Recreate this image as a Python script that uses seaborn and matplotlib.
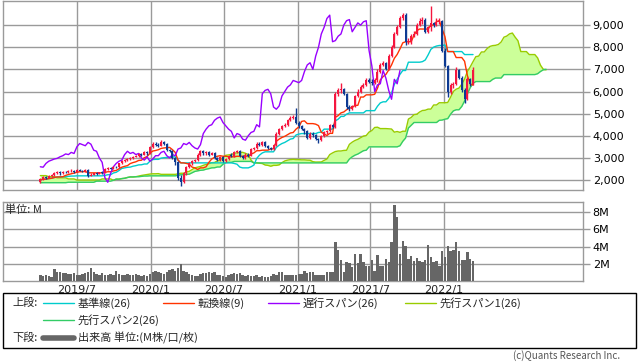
import numpy as np
import pandas as pd
import matplotlib
matplotlib.use('Agg')
import matplotlib.pyplot as plt
from matplotlib.lines import Line2D
from matplotlib.patches import Rectangle
import seaborn as sns

# weekly candles, first week 2019-04-01
opens = [
    1900, 2050, 2150, 2100, 2200, 2230, 2300, 2350, 2300, 2380,
    2350, 2400, 2420, 2380, 2450, 2430, 2400, 2450, 2200, 2250,
    2300, 2280, 2350, 2330, 2500, 2560, 2520, 2600, 2580, 2750,
    2850, 2900, 2950, 2980, 3050, 3100, 3180, 3150, 3250, 3200,
    3500, 3650, 3600, 3550, 3700, 3620, 3350, 3300, 3000, 2800,
    2100, 1900, 2300, 2600, 2750, 2850, 2900, 3150, 3300, 3200,
    3250, 3150, 3200, 3000, 2900, 3050, 2850, 2950, 3150, 3100,
    3250, 3300, 3100, 3000, 3150, 3100, 3400, 3450, 3650, 3600,
    3700, 3550, 3450, 3400, 3600, 4100, 4300, 4450, 4500, 4700,
    4800, 4850, 4600, 4450, 4300, 4200, 3900, 4100, 4050, 3850,
    3800, 4000, 4150, 4200, 4500, 4400, 5900, 6050, 6100, 5900,
    5300, 5200, 5350, 5800, 6000, 6200, 6300, 6500, 6450, 6400,
    6500, 6900, 7200, 7300, 7000, 7600, 8000, 8600, 8900, 9300,
    9450, 8250, 8300, 8500, 8600, 9000, 9200, 9250, 8700, 8900,
    9100, 9000, 9150, 9200, 7850, 7150, 6000, 6300, 6350, 6950,
    6600, 6050, 5650, 6550, 6350]
highs = [
    2100, 2200, 2200, 2250, 2280, 2350, 2400, 2400, 2420, 2420,
    2450, 2480, 2460, 2500, 2490, 2470, 2500, 2480, 2300, 2340,
    2350, 2380, 2390, 2540, 2600, 2600, 2640, 2650, 2780, 2900,
    2950, 3000, 3020, 3100, 3150, 3220, 3230, 3300, 3300, 3550,
    3700, 3720, 3680, 3800, 3750, 3680, 3420, 3350, 3050, 2850,
    2250, 2350, 2650, 2800, 2900, 2950, 3200, 3350, 3350, 3300,
    3300, 3250, 3250, 3050, 3100, 3100, 3000, 3150, 3200, 3300,
    3350, 3340, 3150, 3200, 3200, 3450, 3500, 3700, 3700, 3750,
    3750, 3600, 3500, 3650, 4150, 4350, 4500, 4600, 4750, 4900,
    4950, 5250, 4650, 4500, 4350, 4250, 4150, 4150, 4100, 3900,
    4050, 4200, 4250, 4550, 4550, 6000, 6150, 6400, 6150, 5950,
    5400, 5400, 5850, 6100, 6300, 6400, 6600, 6600, 6550, 6600,
    7000, 7300, 7400, 7350, 7700, 8100, 8700, 9000, 9400, 9550,
    9540, 8400, 8600, 8750, 9100, 9300, 9350, 9300, 8950, 9860,
    9150, 9300, 9320, 9250, 7950, 7200, 6400, 6450, 7100, 7000,
    6700, 6150, 6650, 6600, 7100]
lows = [
    1880, 2000, 2050, 2080, 2150, 2200, 2280, 2250, 2280, 2300,
    2320, 2370, 2340, 2360, 2400, 2360, 2380, 2150, 2180, 2220,
    2240, 2260, 2290, 2300, 2470, 2480, 2500, 2550, 2560, 2720,
    2820, 2860, 2920, 2950, 3020, 3060, 3100, 3120, 3150, 3180,
    3450, 3550, 3500, 3520, 3580, 3300, 3250, 2950, 2700, 2000,
    1750, 1850, 2250, 2550, 2700, 2800, 2850, 3100, 3150, 3150,
    3100, 3120, 2950, 2850, 2850, 2800, 2820, 2900, 3050, 3050,
    3200, 3050, 2950, 2950, 3050, 3080, 3350, 3400, 3550, 3550,
    3500, 3400, 3350, 3350, 3550, 4050, 4250, 4400, 4450, 4650,
    4750, 4550, 4350, 4250, 4100, 3850, 3850, 3950, 3800, 3670,
    3750, 3950, 4100, 4150, 4350, 4350, 5800, 5950, 5850, 5200,
    5100, 5150, 5300, 5750, 5950, 6150, 6250, 6400, 6300, 6350,
    6450, 6850, 7150, 6950, 6950, 7550, 7950, 8550, 8850, 9250,
    8100, 8150, 8150, 8450, 8550, 8950, 9050, 8650, 8650, 8750,
    8900, 8950, 9050, 7800, 7100, 5750, 5900, 6150, 6300, 6550,
    5980, 5480, 5600, 6250, 6300]
closes = [
    2050, 2150, 2100, 2200, 2230, 2300, 2350, 2300, 2380, 2350,
    2400, 2420, 2380, 2450, 2430, 2400, 2450, 2200, 2250, 2300,
    2280, 2350, 2330, 2500, 2560, 2520, 2600, 2580, 2750, 2850,
    2900, 2950, 2980, 3050, 3100, 3180, 3150, 3250, 3200, 3500,
    3650, 3600, 3550, 3700, 3620, 3350, 3300, 3000, 2800, 2100,
    1900, 2300, 2600, 2750, 2850, 2900, 3150, 3300, 3200, 3250,
    3150, 3200, 3000, 2900, 3050, 2850, 2950, 3100, 3100, 3250,
    3300, 3100, 3000, 3150, 3100, 3400, 3450, 3650, 3600, 3700,
    3550, 3450, 3400, 3600, 4100, 4300, 4450, 4500, 4700, 4800,
    4850, 4600, 4450, 4300, 4200, 3900, 4100, 4050, 3850, 3800,
    4000, 4150, 4200, 4500, 4400, 5900, 6050, 6100, 5900, 5300,
    5200, 5350, 5800, 6000, 6200, 6300, 6500, 6450, 6400, 6500,
    6900, 7200, 7300, 7000, 7600, 8000, 8600, 8900, 9300, 9450,
    8250, 8300, 8500, 8600, 9000, 9200, 9250, 8700, 8900, 9100,
    9000, 9150, 9200, 7850, 7150, 6000, 6300, 6350, 6950, 6600,
    6050, 5650, 6550, 6350, 6950]
# weekly volume, millions
volume = [
    0.7, 0.6, 0.65, 0.55, 0.5, 1.4, 1.0, 1.1, 0.95, 0.9,
    0.85, 0.8, 0.9, 0.7, 0.75, 0.8, 0.9, 1.0, 1.5, 1.05,
    0.8, 0.75, 0.9, 0.7, 0.75, 0.85, 0.7, 1.15, 0.8, 0.75,
    0.7, 0.8, 0.75, 0.65, 0.8, 0.7, 0.6, 0.65, 0.55, 0.8,
    1.0, 1.15, 1.1, 0.9, 0.8, 1.1, 1.3, 1.35, 1.2, 1.5,
    2.0, 1.2, 1.0, 0.85, 0.7, 0.6, 0.55, 0.8, 0.95, 0.9,
    1.0, 0.95, 1.1, 0.7, 0.75, 0.6, 0.5, 0.7, 0.85, 0.9,
    0.85, 0.95, 0.7, 0.6, 0.75, 0.55, 0.6, 0.7, 0.5, 0.55,
    0.5, 0.45, 0.6, 0.8, 0.7, 1.0, 1.0, 0.75, 0.7, 0.7,
    0.7, 0.75, 0.85, 0.8, 1.2, 0.9, 1.05, 1.0, 0.7, 0.75,
    0.7, 0.75, 1.1, 1.05, 1.1, 4.6, 3.6, 2.4, 1.0, 2.2,
    2.1, 1.6, 3.2, 2.1, 3.2, 2.2, 1.8, 1.7, 2.4, 1.2,
    3.0, 1.8, 1.7, 2.6, 2.2, 4.5, 8.8, 7.4, 3.1, 4.7,
    4.1, 2.6, 2.9, 2.3, 2.7, 2.3, 2.2, 2.4, 4.25, 2.75,
    2.2, 2.3, 1.7, 3.45, 2.75, 4.1, 3.5, 3.65, 4.5, 3.45,
    2.5, 2.5, 3.35, 2.6, 2.3]
# cloud before the first 26 weeks (carried over from earlier history)
span1_early = [2200, 2200, 2200, 2150, 2150, 2150, 2100, 2100, 2100, 2100,
               2050, 2050, 2050, 2000, 2000, 2000, 2000, 2000, 2000, 2000,
               2000, 2000, 2050, 2050, 2050, 2050]
span2_early = [1880, 1880, 1880, 1880, 1880, 1880, 1880, 1880, 1880, 1880,
               1900, 1900, 1900, 1900, 1900, 1900, 1900, 1900, 1900, 1900,
               1950, 1950, 1950, 1950, 1950, 1950]
xtick_dates = ['2019-07-01', '2020-01-01', '2020-07-01', '2021-01-01', '2021-07-01', '2022-01-01']
xtick_labels = ['2019/7', '2020/1', '2020/7', '2021/1', '2021/7', '2022/1']
price_ticks = [2000, 3000, 4000, 5000, 6000, 7000, 8000, 9000]
vol_ticks = [2, 4, 6, 8]

sns.set_style('white')
plt.rcParams['font.family'] = ['Noto Sans CJK JP', 'DejaVu Sans']

n = len(closes)
df = pd.DataFrame({'open': opens, 'high': highs, 'low': lows, 'close': closes,
                   'volume': volume})
df['date'] = pd.date_range('2019-04-01', periods=n, freq='W-MON')
all_dates = pd.date_range('2019-04-01', periods=n + 26, freq='W-MON')

hi, lo = df['high'], df['low']
df['tenkan'] = (hi.rolling(9, min_periods=1).max() + lo.rolling(9, min_periods=1).min()) / 2
df['kijun'] = (hi.rolling(26, min_periods=1).max() + lo.rolling(26, min_periods=1).min()) / 2
s1 = ((df['tenkan'] + df['kijun']) / 2).tolist()
s2 = ((hi.rolling(52, min_periods=1).max() + lo.rolling(52, min_periods=1).min()) / 2).tolist()
cloud = pd.DataFrame({'date': all_dates,
                      'span1': span1_early + s1,
                      'span2': span2_early + s2})
chikou = pd.DataFrame({'date': df['date'][:n - 26].values, 'close': closes[26:]})

W, H = 638, 362
fig = plt.figure(figsize=(W / 100, H / 100), dpi=100)
ax = fig.add_axes([3 / W, 1 - 190 / H, 580 / W, 189 / H])
ax2 = fig.add_axes([3 / W, 1 - 281 / H, 580 / W, 79 / H])

grid_c = '#9a9a9a'
for a in (ax, ax2):
    a.set_facecolor('white')
    for s in a.spines.values():
        s.set_color(grid_c)
        s.set_linewidth(1)
    a.grid(True, color=grid_c, linewidth=1)
    a.set_axisbelow(True)
    a.yaxis.tick_right()
    a.tick_params(axis='y', colors=grid_c, length=5, width=1, labelsize=8, labelcolor='black', pad=2)
    a.set_xticks(pd.to_datetime(xtick_dates))
    a.set_xlim(pd.Timestamp('2018-12-29'), pd.Timestamp('2022-12-13'))

# cloud
ax.fill_between(cloud['date'], cloud['span1'], cloud['span2'], color='#ccff99', linewidth=0, zorder=1)
sns.lineplot(data=cloud, x='date', y='span1', ax=ax, color='#99cc00', linewidth=1, zorder=2)
sns.lineplot(data=cloud, x='date', y='span2', ax=ax, color='#33cc66', linewidth=1, zorder=2)
sns.lineplot(data=df, x='date', y='kijun', ax=ax, color='#00cccc', linewidth=1, zorder=3)
sns.lineplot(data=df, x='date', y='tenkan', ax=ax, color='#ff3300', linewidth=1, zorder=3)
sns.lineplot(data=chikou, x='date', y='close', ax=ax, color='#9900ff', linewidth=1, zorder=3)

# candles
up = df['close'] >= df['open']
col = np.where(up, '#f5163f', '#0d3a92')
body_lo = np.minimum(df['open'], df['close'])
body_h = np.maximum(np.abs(df['close'] - df['open']), 25)
ax.vlines(df['date'], df['low'], df['high'], colors=col, linewidth=1, zorder=4)
ax.bar(df['date'], body_h, bottom=body_lo, width=5, color=col, linewidth=0, zorder=5)

ax.set_ylim(1550, 10090)
ax.set_yticks(price_ticks)
ax.set_yticklabels([f'{v:,}' for v in price_ticks], family='DejaVu Sans')
ax.set_xticklabels([])
ax.tick_params(axis='x', length=0)
ax.set_xlabel('')
ax.set_ylabel('')

# volume
ax2.bar(df['date'], df['volume'], width=6, color='#666666', linewidth=0, zorder=3)
ax2.set_ylim(0, 9.2)
ax2.set_yticks(vol_ticks)
ax2.set_yticklabels([f'{v}M' for v in vol_ticks], family='DejaVu Sans')
ax2.set_xticklabels(xtick_labels, family='DejaVu Sans')
ax2.tick_params(axis='x', length=0, labelsize=8, pad=3)
ax2.set_xlabel('')
ax2.set_ylabel('')
ax2.text(0.004, 0.97, '単位: M', transform=ax2.transAxes, fontsize=8, va='top', ha='left')

# legend box
def fx(px):
    return px / W

def fy(py):
    return 1 - py / H

fig.add_artist(Rectangle((fx(3), fy(348)), fx(633), 55 / H, fill=False,
                         edgecolor='black', linewidth=1, transform=fig.transFigure))
fig.text(fx(12), fy(303), '上段:', fontsize=8, va='center')
fig.text(fx(12), fy(338), '下段:', fontsize=8, va='center')
legend_items = [
    (43, 303, '#00cccc', '基準線(26)', 1),
    (163, 303, '#ff3300', '転換線(9)', 1),
    (268, 303, '#9900ff', '遅行スパン(26)', 1),
    (405, 303, '#99cc00', '先行スパン1(26)', 1),
    (43, 320, '#33cc66', '先行スパン2(26)', 1),
    (43, 338, '#666666', '出来高 単位:(M株/口/枚)', 4),
]
for x0, y0, c, label, lw in legend_items:
    fig.add_artist(Line2D([fx(x0), fx(x0 + 31)], [fy(y0), fy(y0)], color=c,
                          linewidth=lw, transform=fig.transFigure))
    fig.text(fx(x0 + 35), fy(y0), label, fontsize=8, va='center')

fig.text(fx(620), fy(356), '(c)Quants Research Inc.', fontsize=7, color='#555555',
         ha='right', va='center')

fig.savefig('out.png', dpi=100)
